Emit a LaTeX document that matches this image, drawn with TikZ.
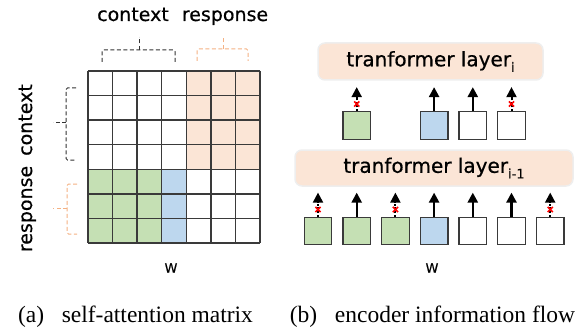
\documentclass[tikz,border=0pt]{standalone}
\usepackage{fontspec}
\setmainfont{Liberation Serif}
\newfontfamily\dvs{DejaVu Sans}[FakeBold=0.6]
\usetikzlibrary{arrows.meta}
\definecolor{cgreen}{HTML}{C5E0B4}
\definecolor{cblue}{HTML}{BDD7EE}
\definecolor{cpeach}{HTML}{FBE5D6}
\definecolor{corange}{HTML}{F4B183}
\definecolor{cgrid}{HTML}{3A3A3A}
\definecolor{cboxline}{HTML}{EEEEEE}
\tikzset{
  gridline/.style={draw=cgrid, line width=1.4pt},
  sq/.style={draw=cgrid, line width=1.3pt, minimum width=27.5pt, minimum height=27.5pt, inner sep=0pt},
  layerbox/.style={fill=cpeach, draw=cboxline, line width=1.5pt, rounded corners=7pt, inner sep=0pt,
    font=\dvs\fontsize{20}{20}\selectfont},
  flow/.style={line width=2.4pt, -{Triangle[width=10pt,length=10pt]}},
  blocked/.style={line width=2pt, dash pattern=on 2pt off 1.6pt, -{Triangle[width=10pt,length=10pt]}},
  xmark/.style={red, line width=1.6pt},
  bracek/.style={draw=black!80, line width=1pt, dash pattern=on 4pt off 2.5pt, rounded corners=1.5pt},
  braceo/.style={draw=corange, line width=1pt, dash pattern=on 4pt off 2.5pt, rounded corners=1.5pt},
  lab/.style={font=\dvs\fontsize{19}{19}\selectfont, inner sep=0pt},
  wlab/.style={font=\dvs\fontsize{13}{13}\selectfont, inner sep=0pt},
  captext/.style={font=\fontsize{23.5}{23.5}\selectfont, inner sep=0pt}
}
\begin{document}
\begin{tikzpicture}[x=1pt,y=-1pt]
\useasboundingbox (0,0) rectangle (578,334);
\def\cs{24.571}
% ---------- matrix fills ----------
\fill[cpeach] (88+4*\cs,71) rectangle (260,71+4*\cs);
\fill[cgreen] (88,71+4*\cs) rectangle (88+3*\cs,243);
\fill[cblue] (88+3*\cs,71+4*\cs) rectangle (88+4*\cs,243);
\foreach \i in {0,...,7}{
  \draw[gridline] (88+\i*\cs,71) -- (88+\i*\cs,243);
  \draw[gridline] (88,71+\i*\cs) -- (260,71+\i*\cs);
}
% ---------- braces ----------
\draw[bracek] (102,62) -- (102,50) -- (175,50) -- (175,62);
\draw[bracek] (139,50) -- (139,37);
\draw[braceo] (197,61) -- (197,49) -- (248,49) -- (248,61);
\draw[braceo] (223,49) -- (223,37);
\draw[bracek] (76,88) -- (66,88) -- (66,160) -- (76,160);
\draw[bracek] (66,123) -- (53,123);
\draw[braceo] (77,184) -- (67,184) -- (67,234) -- (77,234);
\draw[braceo] (67,208) -- (53,208);
% ---------- labels ----------
\node[lab, anchor=base] (lc) at (133,21) {context};
\node[lab, anchor=base] (lr) at (225,21) {response};
\node[lab, anchor=base, rotate=90] (lc2) at (32,120) {context};
\node[lab, anchor=base, rotate=90] (lr2) at (32,209) {response};
\node[wlab] (w1) at (171,268) {W};
\node[wlab] (w2) at (432,268) {W};
% ---------- right panel ----------
\node[layerbox, minimum width=225pt, minimum height=37pt] (L1) at (430.5,61.5)
  {tranformer layer\raisebox{-0.28em}{\fontsize{13}{13}\selectfont i}};
\node[layerbox, minimum width=278pt, minimum height=36pt] (L0) at (434,168)
  {tranformer layer\raisebox{-0.28em}{\fontsize{13}{13}\selectfont i-1}};
% bottom squares
\foreach \k/\c in {0/cgreen,1/cgreen,2/cgreen,3/cblue,4/white,5/white,6/white}{
  \node[sq, fill=\c] (b\k) at (318+\k*38.7,231) {};
}
% top squares
\foreach \k/\c in {1/cgreen,3/cblue,4/white,5/white}{
  \node[sq, fill=\c] (t\k) at (318+\k*38.7,125.5) {};
}
% arrow end points
\foreach \k in {0,...,6}{
  \coordinate (bt\k) at ([yshift=24pt]b\k.north);
}
\foreach \k in {1,3,4,5}{
  \coordinate (tt\k) at ([yshift=24pt]t\k.north);
}
\foreach \k in {1,3,4,5}{\draw[flow] (b\k.north) -- (bt\k);}
\foreach \k in {0,2,6}{\draw[blocked] (b\k.north) -- (bt\k);}
\foreach \k in {3,4}{\draw[flow] (t\k.north) -- (tt\k);}
\foreach \k in {1,5}{\draw[blocked] (t\k.north) -- (tt\k);}
\foreach \n in {b0,b2,b6,t1,t5}{
  \draw[xmark] ([shift={(-2.6pt,4.5pt)}]\n.north) -- ([shift={(2.6pt,9.7pt)}]\n.north);
  \draw[xmark] ([shift={(2.6pt,4.5pt)}]\n.north) -- ([shift={(-2.6pt,9.7pt)}]\n.north);
}
% ---------- captions ----------
\node[captext, anchor=base] (capa) at (135.5,322) {(a)\hspace{0.5em} self-attention matrix};
\node[captext, anchor=base] (capb) at (432.5,322) {(b)\hspace{0.5em} encoder information flow};
\end{tikzpicture}
\end{document}
